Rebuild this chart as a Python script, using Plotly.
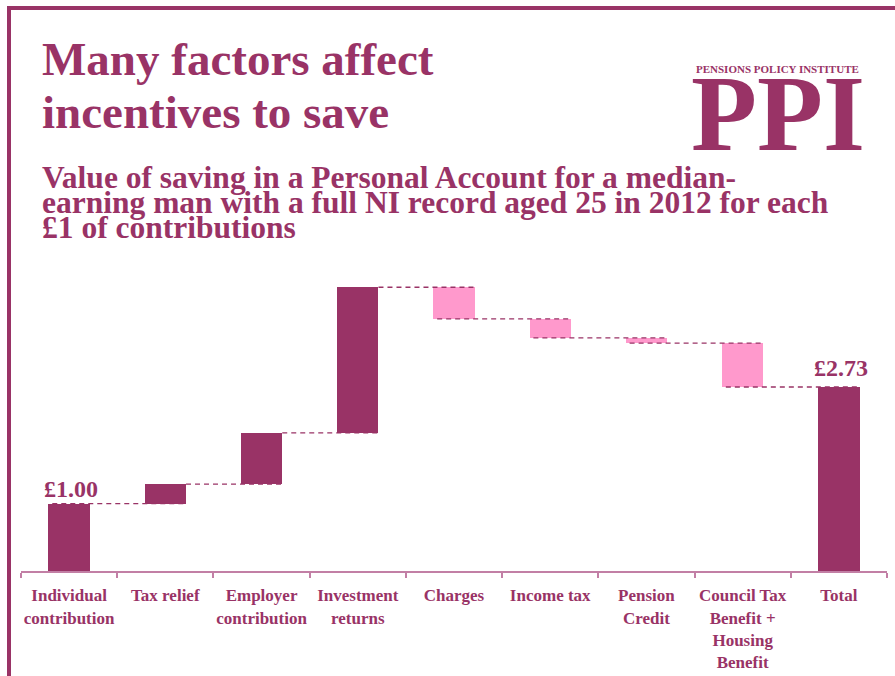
import plotly.graph_objects as go

# ---- data -------------------------------------------------------------
categories = [
    "Individual<br>contribution",
    "Tax relief",
    "Employer<br>contribution",
    "Investment<br>returns",
    "Charges",
    "Income tax",
    "Pension<br>Credit",
    "Council Tax<br>Benefit +<br>Housing<br>Benefit",
    "Total",
]
# change in value (GBP) contributed by each factor, per £1 of contributions
steps = [1.00, 0.29, 0.76, 2.16, -0.47, -0.28, -0.08, -0.65]

# ---- styling ----------------------------------------------------------
MAROON = "#993366"
PINK = "#FF99CC"
AXIS = "#C27FA5"
SERIF = "Liberation Serif"
W, H = 895, 676
BAR_W = 0.43

# running totals -> floating bar bases/heights
cum = []
running = 0.0
for s in steps:
    running += s
    cum.append(round(running, 2))
total = cum[-1]

bases, heights, colors = [], [], []
prev = 0.0
for s, c in zip(steps, cum):
    bases.append(min(prev, c))
    heights.append(abs(s))
    colors.append(MAROON if s >= 0 else PINK)
    prev = c
bases.append(0.0)
heights.append(total)
colors.append(MAROON)

fig = go.Figure(
    go.Bar(
        x=categories,
        y=heights,
        base=bases,
        width=BAR_W,
        marker=dict(color=colors, line=dict(width=0)),
        hoverinfo="skip",
    )
)

# dashed connectors at each running-total level
shapes = []
for i, level in enumerate(cum):
    if i == 0 or steps[i] < 0:
        x0 = i - BAR_W / 2 + 0.04
    else:
        x0 = i + BAR_W / 2
    x1 = i + 1 + BAR_W / 2
    shapes.append(dict(type="line", xref="x", yref="y", x0=x0, x1=x1,
                       y0=level, y1=level,
                       line=dict(color=MAROON, width=1.3, dash="5px,4px")))


def px(x):
    return x / W


def py(y):
    return 1 - y / H


# frame: left and top rules
shapes.append(dict(type="line", xref="paper", yref="paper",
                   x0=px(9), x1=px(9), y0=py(6), y1=0,
                   line=dict(color=MAROON, width=4)))
shapes.append(dict(type="line", xref="paper", yref="paper",
                   x0=px(7), x1=1, y0=py(8), y1=py(8),
                   line=dict(color=MAROON, width=4)))

annotations = []


def text(x, y, s, size, xanchor="left", **kw):
    annotations.append(dict(
        xref="paper", yref="paper", x=px(x), y=py(y), text=s,
        showarrow=False, xanchor=xanchor, yanchor="middle",
        font=dict(family=SERIF, size=size, color=MAROON, weight="bold"),
        borderpad=0, **kw))


# headline
text(41, 59, "Many factors affect", 47)
text(41, 112, "incentives to save", 47)

# subtitle
text(41, 177, "Value of saving in a Personal Account for a median-", 31.5)
text(41, 202, "earning man with a full NI record aged 25 in 2012 for each", 31.5)
text(41, 227, "£1 of contributions", 31.5)

# logo
text(777, 69, "PENSIONS POLICY INSTITUTE", 11, xanchor="center")
text(778, 114, "PPI", 108, xanchor="center")

# value labels
annotations.append(dict(
    xref="x", yref="y", x=0, y=steps[0], text=f"£{steps[0]:.2f}",
    showarrow=False, xanchor="center", yanchor="bottom", xshift=2, yshift=0,
    font=dict(family=SERIF, size=24, color=MAROON, weight="bold")))
annotations.append(dict(
    xref="x", yref="y", x=len(categories) - 1, y=total, text=f"£{total:.2f}",
    showarrow=False, xanchor="center", yanchor="bottom", xshift=2, yshift=4,
    font=dict(family=SERIF, size=24, color=MAROON, weight="bold")))

fig.update_layout(
    width=W,
    height=H,
    margin=dict(l=0, r=0, t=0, b=0),
    paper_bgcolor="white",
    plot_bgcolor="white",
    showlegend=False,
    bargap=0,
    shapes=shapes,
    annotations=annotations,
    xaxis=dict(
        domain=[21 / W, 887 / W],
        type="category",
        showline=True,
        linecolor=AXIS,
        linewidth=2,
        ticks="outside",
        tickson="boundaries",
        ticklen=5,
        tickwidth=1.5,
        tickcolor=AXIS,
        showgrid=False,
        zeroline=False,
        tickangle=0,
        ticklabelstandoff=8,
        tickfont=dict(family=SERIF, size=17, color=MAROON, weight="bold"),
        fixedrange=True,
    ),
    yaxis=dict(
        domain=[(H - 571) / H, (H - 270) / H],
        range=[0, 301 / 67.4],
        visible=False,
        fixedrange=True,
    ),
)

fig.write_html("out.html")
